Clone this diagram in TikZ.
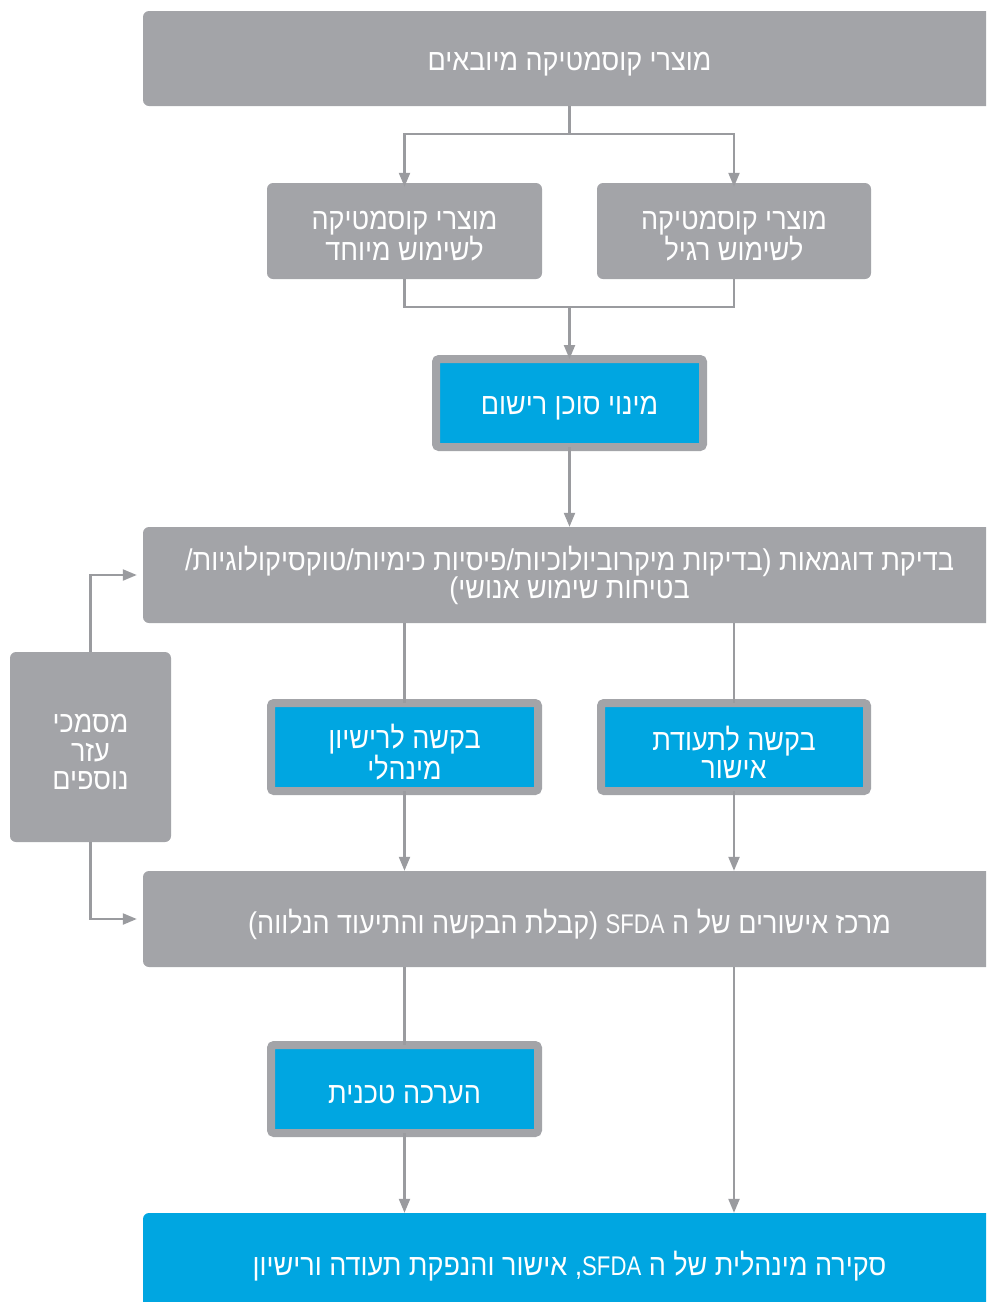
\documentclass[tikz,border=0pt]{standalone}
\usepackage{fontspec}
\setmainfont{Liberation Sans}
\newfontfamily\hebfont[Script=Hebrew,FakeStretch=0.9]{Liberation Sans}
\newfontfamily\latfont[FakeStretch=0.9]{Liberation Sans}
\newfontfamily\capsfont[FakeStretch=0.82]{Liberation Sans}
\TeXXeTstate=1
\usetikzlibrary{arrows.meta}
\definecolor{boxgray}{HTML}{A3A4A8}
\definecolor{boxblue}{HTML}{00A6E1}
\definecolor{linegray}{HTML}{9A9B9F}
\newcommand\rl[1]{\raisebox{-5.5pt}[\height][\depth]{\beginR #1\endR}}
\newcommand\rlup[1]{\raisebox{-0.5pt}[\height][\depth]{\beginR #1\endR}}
\newcommand\hlp{\hbox{\latfont)}}
\newcommand\hrp{\hbox{\latfont(}}
\newcommand\hsl{\hbox{\latfont/}}
\newcommand\hcm{\hbox{\latfont,}}
\newcommand\sfda{\hbox{\capsfont\fontsize{27pt}{28pt}\selectfont SFDA}}
\begin{document}
\begin{tikzpicture}[x=1pt,y=-1pt,
  font={\hebfont\fontsize{30pt}{28.5pt}\selectfont},
  graybox/.style={fill=boxgray, draw=none, rounded corners=6pt, text=white, align=center, inner sep=0pt},
  bluebox/.style={fill=boxblue, draw=boxgray, line width=8pt, rounded corners=3pt, text=white, align=center, inner sep=0pt},
  bluefill/.style={fill=boxblue, draw=none, rounded corners=6pt, text=white, align=center, inner sep=0pt},
  conn/.style={draw=linegray, line width=2.2pt},
  arr/.style={conn, -{Triangle[length=14pt,width=11pt]}}]
\clip (0,0) rectangle (986,1302);
% boxes
\node[graybox, minimum width=853pt, minimum height=95pt] (T) at (569.5,58.5) {\rl{מוצרי קוסמטיקה מיובאים}};
\node[graybox, minimum width=275pt, minimum height=96pt] (A) at (404.5,231) {\rl{מוצרי קוסמטיקה}\\\rl{לשימוש מיוחד}};
\node[graybox, minimum width=274pt, minimum height=96pt] (B) at (734,231) {\rl{מוצרי קוסמטיקה}\\\rl{לשימוש רגיל}};
\node[bluebox, minimum width=267pt, minimum height=88pt] (M) at (569.5,403) {\rl{מינוי סוכן רישום}};
\node[graybox, minimum width=853pt, minimum height=96pt] (C) at (569.5,575) {\rlup{בדיקת דוגמאות \hlp בדיקות מיקרוביולוכיות\hsl פיסיות כימיות\hsl טוקסיקולוגיות\hsl}\\\rlup{בטיחות שימוש אנושי\hrp}};
\node[graybox, minimum width=161pt, minimum height=190pt] (S) at (90.5,747) {\rl{מסמכי}\\\rl{עזר}\\\rl{נוספים}};
\node[bluebox, minimum width=267pt, minimum height=88pt] (D) at (404.5,747) {\rl{בקשה לרישיון}\\\rl{מינהלי}};
\node[bluebox, minimum width=266pt, minimum height=88pt] (E) at (734,747) {\rl{בקשה לתעודת}\\\rl{אישור}};
\node[graybox, minimum width=853pt, minimum height=96pt] (F) at (569.5,919) {\rl{מרכז אישורים של ה \sfda{} \hlp קבלת הבקשה והתיעוד הנלווה\hrp}};
\node[bluebox, minimum width=267pt, minimum height=88pt] (G) at (404.5,1089) {\rl{הערכה טכנית}};
\node[bluefill, minimum width=853pt, minimum height=96pt] (H) at (569.5,1261) {\rl{סקירה מינהלית של ה \sfda\hcm{} אישור והנפקת תעודה ורישיון}};
% connectors
\draw[arr] (T.south) -- ++(0,28) -| ([yshift=-4pt]A.north);
\draw[arr] (T.south) -- ++(0,28) -| ([yshift=-4pt]B.north);
\coordinate (j1) at (569.5,307);
\draw[conn] (A.south) |- (j1);
\draw[conn] (B.south) |- (j1);
\draw[arr] (j1) -- ([yshift=-4pt]M.north);
\draw[arr] ([yshift=4pt]M.south) -- (C.north);
\draw[conn] (C.south -| D.north) -- ([yshift=-4pt]D.north);
\draw[conn] (C.south -| E.north) -- ([yshift=-4pt]E.north);
\draw[arr] ([yshift=4pt]D.south) -- (D.south |- F.north);
\draw[arr] ([yshift=4pt]E.south) -- (E.south |- F.north);
\draw[arr, shorten >=6pt] (S.north) |- (C.west);
\draw[arr, shorten >=6pt] (S.south) |- (F.west);
\draw[conn] (F.south -| G.north) -- ([yshift=-4pt]G.north);
\draw[arr] ([yshift=4pt]G.south) -- (G.south |- H.north);
\draw[arr] (F.south -| E.north) -- (E.north |- H.north);
\end{tikzpicture}
\end{document}
